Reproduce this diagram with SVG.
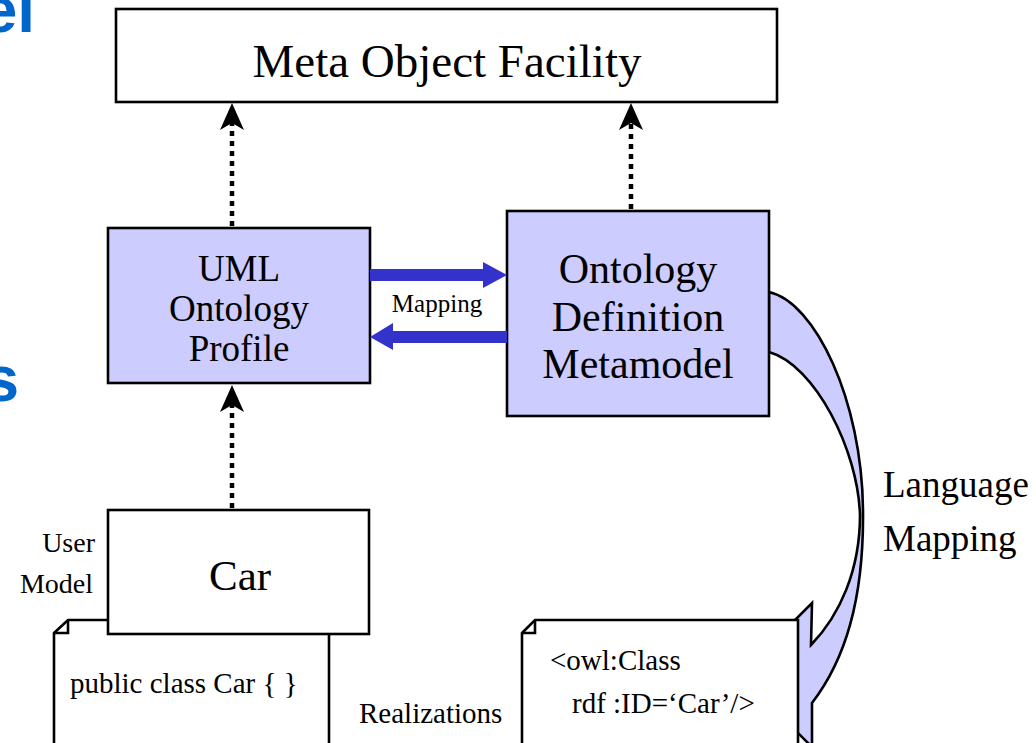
<svg xmlns="http://www.w3.org/2000/svg" width="1036" height="743" viewBox="0 0 1036 743">
<style>
.box{stroke:#000;stroke-width:2.6}
.w{fill:#fff}
.p{fill:#ccccff}
.t{font-family:"Liberation Serif","Times New Roman",serif;fill:#000}
.c{text-anchor:middle}
.r{text-anchor:end}
.blue{font-family:"Liberation Sans",Arial,sans-serif;font-weight:bold;fill:#0066cc;font-size:64px}
.dot{stroke:#000;stroke-width:4.5;stroke-dasharray:5 5;fill:none}
.map{fill:#3333cc}
</style>
<defs>
<path id="ah" d="M0,0 L12,27 L0,20 L-12,27 Z" fill="#000"/>
</defs>
<rect width="1036" height="743" fill="#fff"/>
<text class="blue r" x="35" y="32">el</text>
<text class="blue r" x="19" y="401">s</text>

<g id="language-mapping-arrow">
<path d="M769,292 C815,302 862,400 863,510 C864,600 845,660 812,703 L812,747 L740,675 L812,603 L811,645 C840,615 860,570 860,515 C858,450 815,365 769,352 Z" fill="#ccccff" stroke="#000" stroke-width="2.6" stroke-linejoin="miter"/>
</g>

<g id="mof">
<rect class="box w" x="116" y="9" width="661" height="93"/>
<text class="t c" x="447" y="77" font-size="47">Meta Object Facility</text>
</g>

<g id="uml-profile">
<rect class="box p" x="108" y="228" width="262" height="155"/>
<text class="t c" x="239" y="281" font-size="37">UML</text>
<text class="t c" x="239" y="321" font-size="37">Ontology</text>
<text class="t c" x="239" y="361" font-size="37">Profile</text>
</g>

<g id="odm">
<rect class="box p" x="507" y="211" width="262" height="205"/>
<text class="t c" x="638" y="283" font-size="42">Ontology</text>
<text class="t c" x="638" y="331" font-size="42">Definition</text>
<text class="t c" x="638" y="378" font-size="42">Metamodel</text>
</g>

<g id="doc-java">
<path class="box w" d="M54,633 L68,620 L329,620 L329,760 L54,760 Z"/>
<path d="M68,620 L68,633 L54,633" fill="none" stroke="#000" stroke-width="2.6"/>
<text class="t" x="70" y="693" font-size="29">public class Car { }</text>
</g>

<g id="car">
<rect class="box w" x="108" y="510" width="261" height="124"/>
<text class="t c" x="240" y="590" font-size="43">Car</text>
</g>

<g id="doc-owl">
<path class="box w" d="M522,633 L535,620 L798,620 L798,760 L522,760 Z"/>
<path d="M535,620 L535,633 L522,633" fill="none" stroke="#000" stroke-width="2.6"/>
<text class="t" x="550" y="670" font-size="29">&lt;owl:Class</text>
<text class="t" x="572" y="713" font-size="29">rdf :ID=‘Car’/&gt;</text>
</g>

<g id="connectors">
<line class="dot" x1="232" y1="226" x2="232" y2="120"/>
<use href="#ah" x="232" y="103"/>
<line class="dot" x1="631" y1="209" x2="631" y2="120"/>
<use href="#ah" x="631" y="103"/>
<line class="dot" x1="232" y1="508" x2="232" y2="402"/>
<use href="#ah" x="232" y="385"/>
<polygon class="map" points="370,269 483,269 483,262 507,275 483,288 483,281 370,281"/>
<polygon class="map" points="507,331 393,331 393,323 370,337 393,350 393,343 507,343"/>
</g>

<text class="t c" x="437" y="312" font-size="25">Mapping</text>
<text class="t r" x="95" y="552" font-size="28">User</text>
<text class="t r" x="93" y="593" font-size="28">Model</text>
<text class="t" x="359" y="723" font-size="29">Realizations</text>
<text class="t" x="883" y="497" font-size="37">Language</text>
<text class="t" x="883" y="551" font-size="37">Mapping</text>
</svg>
